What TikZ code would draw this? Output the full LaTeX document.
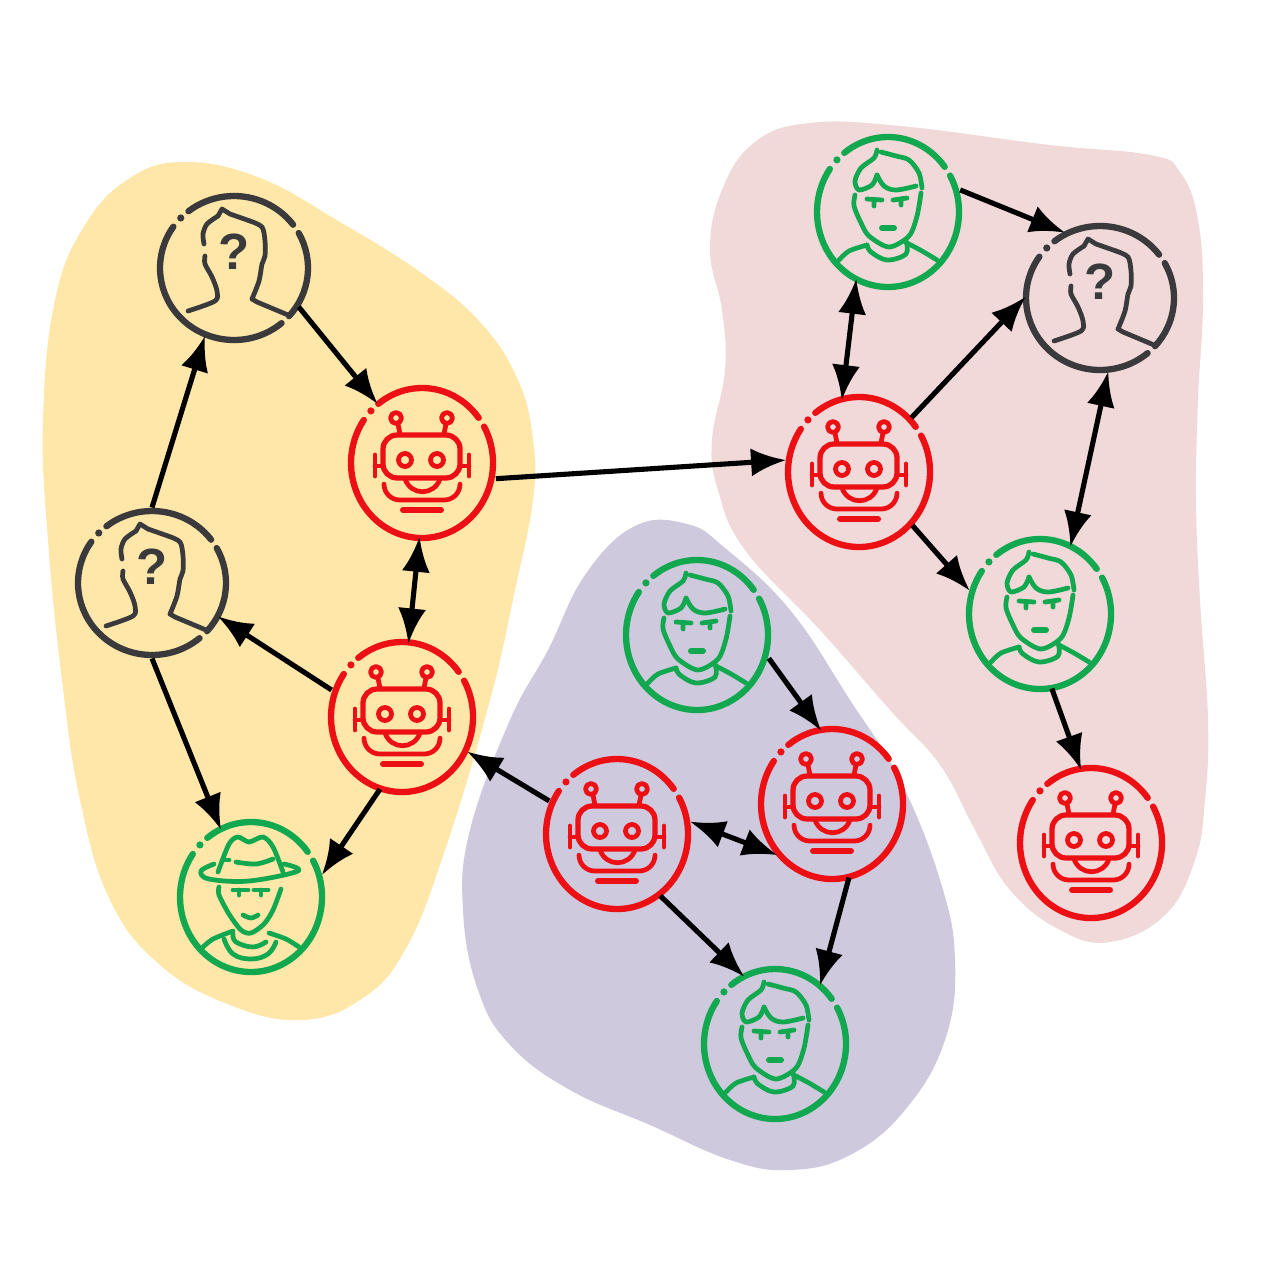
\documentclass[tikz,border=0pt]{standalone}
\usepackage{fontspec}
\usepackage{xcolor}
\usepackage{tikz}
\usetikzlibrary{arrows.meta}
\newfontfamily\markfont{Liberation Sans}
\definecolor{botred}{RGB}{236,16,20}
\definecolor{mangreen}{RGB}{18,168,80}
\definecolor{unkgray}{RGB}{58,58,60}
\definecolor{zoneyellow}{RGB}{254,231,168}
\definecolor{zonepink}{RGB}{241,217,217}
\definecolor{zonepurple}{RGB}{207,201,221}

\begin{document}
\begin{tikzpicture}[x=0.02cm,y=0.02cm,>={Latex[length=20pt,width=16pt]}]
    \tikzstyle{agent}=[circle,minimum size=3.02cm,inner sep=0pt,outer sep=0pt]
    \tikzstyle{ringline}=[line width=3.6pt,line cap=round]
    \tikzstyle{iconline}=[line width=2.7pt,line cap=round,line join=round]
    \tikzstyle{link}=[->,line width=2.9pt,black,shorten >=-1pt]
    \tikzstyle{duplex}=[<->,line width=2.9pt,black,shorten >=-1pt,shorten <=-1pt]
    \tikzstyle{qmark}=[font=\markfont\bfseries\fontsize{29pt}{29pt}\selectfont,inner sep=0pt,text=unkgray]

    \tikzset{
      tallring/.pic={
        \draw[ringline] (128:71 and 75) arc[start angle=128,end angle=37,x radius=71,y radius=75];
        \draw[ringline] (29:71 and 75) arc[start angle=29,end angle=-215,x radius=71,y radius=75];
        \fill (136:71 and 75) circle (3.6);
      },
      robot/.pic={
        \pic {tallring};
        \draw[iconline,line width=3pt,rounded corners=8] (-39,-15) -- (-39,28) -- (38,28) -- (38,-15) -- cycle;
        \draw[iconline] (-17,3) circle (6.5) (15,3) circle (6.5);
        \draw[iconline] (-26,45) circle (5.5) (25,45) circle (5.5);
        \draw[iconline] (-24,39) -- (-22,29) (24,39) -- (22,29);
        \draw[iconline] (-47,8) -- (-47,-13) (-47,-3) -- (-39,-3);
        \draw[iconline] (47,8) -- (47,-13) (47,-3) -- (38,-3);
        \draw[iconline] (-17,-16) .. controls (-11,-33) and (12,-33) .. (18,-16);
        \draw[iconline,rounded corners=9] (-38,-22) -- (-38,-37) -- (38,-37) -- (38,-22);
        \draw[iconline,line width=3.4pt] (-19,-47) -- (19,-47);
      },
      unknown/.pic={
        \draw[ringline] (128:74 and 72) arc[start angle=128,end angle=37,x radius=74,y radius=72];
        \draw[ringline] (29:74 and 72) arc[start angle=29,end angle=-42,x radius=74,y radius=72];
        \draw[ringline] (-50:74 and 72) arc[start angle=-50,end angle=-215,x radius=74,y radius=72];
        \fill (136:74 and 72) circle (3.6);
        \draw[iconline] plot[smooth,tension=.5] coordinates {(-16,52) (-27,44) (-31,34) (-30,24)};
        \draw[iconline] plot[smooth,tension=.5] coordinates {(-29,12) (-29,4) (-22,-9) (-17,-23) (-19,-33) (-46,-43)};
        \draw[iconline] (-16,52) -- (-12,59) -- (-4,54) -- (16,47);
        \draw[iconline] plot[smooth,tension=.5] coordinates {(16,47) (28,41) (31,27) (31,12) (28,4) (25,-13) (18,-31)};
        \draw[iconline] (18,-31) -- (23,-34) -- (54,-47);
        \node[qmark] (-mark) at (0,16) {?};
      },
      man/.pic={
        \pic {tallring};
        \draw[iconline] plot[smooth,tension=.5] coordinates {(-11,62) (-14,54) (-27,44) (-33,31) (-29,22) (-16,27) (-11,37)};
        \draw[iconline] plot[smooth,tension=.6] coordinates {(-11,37) (-4,26) (8,22) (28,26)};
        \draw[iconline] plot[smooth,tension=.5] coordinates {(-7,60) (8,56) (21,52) (31,39) (34,24)};
        \draw[iconline] plot[smooth,tension=.5] coordinates {(-33,17) (-34,6) (-27,-11) (-19,-24) (1,-35) (21,-24) (29,-4) (33,19)};
        \draw[iconline] (-21,13) -- (-6,12) (-14,12) -- (-14,6) (5,12) -- (19,14) (13,12) -- (13,7);
        \draw[iconline,line width=3.4pt] (-6,-16) -- (6,-16);
        \draw[iconline] plot[smooth,tension=.6] coordinates {(-21,-33) (-17,-40) (-1,-48) (18,-42) (18,-29)};
        \draw[iconline] plot[smooth,tension=.5] coordinates {(-49,-48) (-39,-39) (-21,-33)};
        \draw[iconline] plot[smooth,tension=.5] coordinates {(19,-31) (34,-39) (49,-48)};
      },
      ranger/.pic={
        \pic {tallring};
        \draw[iconline] plot[smooth,tension=.6] coordinates {(-37,33) (-50,26) (-42,18) (-2,16) (47,26) (33,33)};
        \draw[iconline] plot[smooth,tension=.5] coordinates {(-33,25) (-22,53) (-13,60) (-2,55) (12,60) (22,50) (32,25)};
        \draw[iconline] plot[smooth,tension=.6] coordinates {(-15,35) (5,33) (22,38)};
        \draw[iconline] (-28,37) -- (-22,37);
        \draw[iconline] plot[smooth,tension=.5] coordinates {(-32,10) (-32,2) (-22,-17) (-10,-33) (0,-36) (13,-27) (22,-13) (30,8)};
        \draw[iconline] (-18,7) -- (-3,7) (-12,7) -- (-12,2) (3,7) -- (17,7) (10,7) -- (10,2);
        \draw[iconline] plot[smooth,tension=.6] coordinates {(-8,-18) (0,-21) (7,-18)};
        \draw[iconline] plot[smooth,tension=.7] coordinates {(-27,-42) (-18,-57) (0,-62) (17,-57) (25,-45)};
        \draw[iconline] plot[smooth,tension=.7] coordinates {(-18,-37) (-15,-45) (2,-50) (15,-45)};
        \draw[iconline] plot[smooth,tension=.5] coordinates {(-48,-50) (-38,-42) (-18,-34)};
        \draw[iconline] plot[smooth,tension=.5] coordinates {(18,-36) (35,-42) (48,-50)};
      }
    }

    \useasboundingbox (0,0) rectangle (1263,-1263);
    \fill[white] (0,0) rectangle (1263,-1263);

    % Draw the three zones
    \fill[zoneyellow] plot[smooth cycle,tension=.7] coordinates {
        (185,-162) (260,-178) (340,-222) (420,-272) (480,-322) (518,-380) (533,-440) (533,-500)
        (515,-590) (490,-700) (445,-850) (405,-950) (360,-1000) (300,-1020) (230,-1005) (160,-965)
        (110,-900) (80,-800) (62,-680) (48,-540) (43,-420) (55,-300) (85,-225) (130,-178)};
    \fill[zonepink] plot[smooth cycle,tension=.7] coordinates {
        (810,-123) (900,-126) (1050,-145) (1150,-155) (1180,-172) (1198,-220) (1203,-300) (1198,-400)
        (1196,-500) (1200,-600) (1208,-720) (1205,-800) (1195,-860) (1165,-915) (1110,-942) (1060,-930)
        (1010,-890) (975,-830) (940,-765) (890,-710) (820,-630) (745,-550) (718,-490) (712,-440)
        (725,-370) (722,-310) (710,-250) (722,-190) (755,-142)};
    \fill[zonepurple] plot[smooth cycle,tension=.7] coordinates {
        (635,-526) (687,-524) (725,-548) (790,-610) (850,-700) (900,-780) (940,-880) (955,-960)
        (945,-1040) (905,-1110) (850,-1155) (790,-1170) (730,-1160) (650,-1125) (570,-1090) (510,-1045)
        (478,-990) (463,-910) (470,-830) (510,-720) (548,-650) (585,-575)};

    % Draw the robots
    \foreach \name / \x / \y in {bot1/422/463,bot2/402/717,bot3/859/472,bot4/1091/843,bot5/832/804,bot6/617/834}
        {
        \node[agent] (\name) at (\x,-\y) {};
        \pic[color=botred] (\name-icon) at (\name) {robot};
        }

    % Draw the unknown accounts
    \foreach \name / \x / \y in {unk1/234/268,unk2/152/583,unk3/1100/298}
        {
        \node[agent] (\name) at (\x,-\y) {};
        \pic[color=unkgray] (\name-icon) at (\name) {unknown};
        }

    % Draw the men
    \foreach \name / \x / \y in {man1/888/212,man2/1040/614,man3/697/635,man4/775/1044}
        {
        \node[agent] (\name) at (\x,-\y) {};
        \pic[color=mangreen] (\name-icon) at (\name) {man};
        }

    % Draw the man with the hat
    \node[agent] (hat1) at (251,-897) {};
    \pic[color=mangreen] (hat1-icon) at (hat1) {ranger};

    % Connect the nodes, one way
    \foreach \source / \dest in {unk2.90/unk1.-113,unk1.-31/bot1.127,bot2.159/unk2.-27,unk2.-90/hat1.114,
        bot2.-107/hat1.18,bot1.-12/bot3.171,man1.17/unk3.119,bot3.46/unk3.180,bot3.-45/man2.161,
        man2.-81/bot4.98,man3.-18/bot5.99,bot6.154/bot2.-28,bot6.-55/man4.115,bot5.-77/man4.53}
        \path (\source) edge[link] (\dest);

    % Connect the nodes, both ways
    \foreach \source / \dest in {bot1.-92/bot2.85,man1.-115/bot3.103,unk3.-84/man2.66,bot6.9/bot5.-138}
        \path (\source) edge[duplex] (\dest);
\end{tikzpicture}
\end{document}
